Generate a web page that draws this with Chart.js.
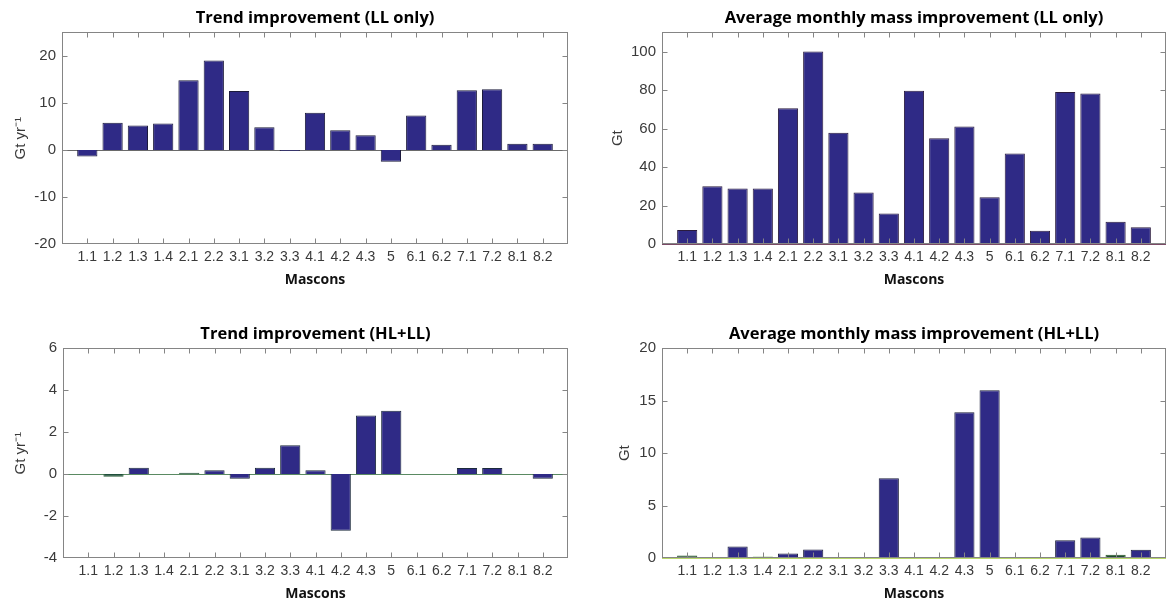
<!DOCTYPE html>
<html><head><meta charset="utf-8">
<script src="https://cdn.jsdelivr.net/npm/chart.js@4.4.1/dist/chart.umd.min.js"></script>
<style>
html,body{margin:0;padding:0;background:#fff;width:1167px;height:602px;overflow:hidden}
.panel{position:absolute}
canvas{display:block}
</style></head><body>
<div class="panel" style="left:0;top:0"><canvas id="c1" width="585" height="288"></canvas></div>
<div class="panel" style="left:590px;top:0"><canvas id="c2" width="577" height="288"></canvas></div>
<div class="panel" style="left:0;top:316px"><canvas id="c3" width="585" height="286"></canvas></div>
<div class="panel" style="left:590px;top:316px"><canvas id="c4" width="577" height="286"></canvas></div>
<script>
// ---- data ----
const mascons = ['1.1','1.2','1.3','1.4','2.1','2.2','3.1','3.2','3.3','4.1','4.2','4.3','5','6.1','6.2','7.1','7.2','8.1','8.2'];
const trendLL   = [-1.4, 5.8, 5.2, 5.6, 14.8, 19.0, 12.5, 4.8, -0.25, 7.9, 4.2, 3.1, -2.5, 7.3, 1.1, 12.7, 12.9, 1.3, 1.3];
const massLL    = [7.3, 30.0, 28.9, 28.9, 70.5, 100.0, 57.8, 26.7, 15.8, 79.6, 55.0, 61.0, 24.3, 47.0, 6.9, 79.0, 78.2, 11.6, 8.7];
const trendHLLL = [0.0, -0.12, 0.3, 0.0, 0.07, 0.18, -0.22, 0.3, 1.38, 0.18, -2.7, 2.8, 3.02, 0.0, 0.0, 0.29, 0.29, 0.0, -0.22];
const massHLLL  = [0.25, 0.1, 1.1, 0.15, 0.42, 0.8, 0.0, 0.0, 7.6, 0.0, 0.0, 13.9, 16.0, 0.0, 0.0, 1.7, 1.95, 0.3, 0.78];
const yTicksTL = [-20, -10, 0, 10, 20];
const yTicksTR = [0, 20, 40, 60, 80, 100];
const yTicksBL = [-4, -2, 0, 2, 4, 6];
const yTicksBR = [0, 5, 10, 15, 20];

const NAVY = '#2f2a86', EDGE = '#1c1b3c';

function framePlugin(baseColor){
  return {
    id:'frame',
    beforeDatasetsDraw(chart){
      const {ctx, chartArea:a, scales:{y}} = chart;
      const y0 = Math.round(y.getPixelForValue(0)) + 0.5;
      ctx.save(); ctx.strokeStyle = baseColor; ctx.lineWidth = 1;
      ctx.beginPath(); ctx.moveTo(a.left, y0); ctx.lineTo(a.right, y0); ctx.stroke();
      ctx.restore();
    },
    afterDraw(chart){
      const {ctx, chartArea:a, scales:{x, y}} = chart;
      ctx.save(); ctx.strokeStyle = '#858585'; ctx.lineWidth = 1;
      const L = Math.round(a.left)+0.5, R = Math.round(a.right)-0.5, T = Math.round(a.top)+0.5, B = Math.round(a.bottom)-0.5;
      ctx.strokeRect(L, T, R-L, B-T);
      ctx.beginPath();
      x.ticks.forEach(t => {
        const px = Math.round(x.getPixelForValue(t.value)) + 0.5;
        ctx.moveTo(px, B); ctx.lineTo(px, B-5);
        ctx.moveTo(px, T); ctx.lineTo(px, T+5);
      });
      y.ticks.forEach(t => {
        if (t.value === y.min || t.value === y.max) return;
        const py = Math.round(y.getPixelForValue(t.value)) + 0.5;
        ctx.moveTo(L, py); ctx.lineTo(L+5, py);
        ctx.moveTo(R, py); ctx.lineTo(R-5, py);
      });
      ctx.stroke();
      ctx.restore();
    }
  };
}

function panel(id, c){
  new Chart(document.getElementById(id), {
    type:'bar',
    data:{datasets:[{
      data: c.values.map((v,i)=>({x:i+1, y:v})),
      backgroundColor: ctx => c.fill(ctx.raw ? ctx.raw.y : 0),
      borderColor: ctx => c.edge(ctx.raw ? ctx.raw.y : 0),
      borderWidth:1, barPercentage:0.8, categoryPercentage:1
    }]},
    options:{
      responsive:false, animation:false, events:[],
      layout:{padding:{left:0, right:c.padRight, top:0, bottom:0}},
      plugins:{
        legend:{display:false}, tooltip:{enabled:false},
        title:{display:true, text:c.title, fullSize:false, color:'#000',
          font:{family:'Open Sans', weight:'bold', size:16.5}, padding:{top:8.5, bottom:4}}
      },
      scales:{
        x:{type:'linear', offset:false, min:0, max:20,
          grid:{display:false, drawTicks:false}, border:{display:false},
          afterBuildTicks: s => { s.ticks = mascons.map((_,i)=>({value:i+1})); },
          afterFit: s => { s.height = 44; },
          ticks:{autoSkip:false, maxRotation:0, minRotation:0, padding:5, color:'#3a3a3a',
            font:{family:'Liberation Sans', size:14}, callback: v => mascons[v-1] ?? ''},
          title:{display:true, text:'Mascons', color:'#111',
            font:{family:'Open Sans', weight:'bold', size:14}, padding:{top:0, bottom:0}}
        },
        y:{min:c.yMin, max:c.yMax,
          grid:{display:false, drawTicks:false}, border:{display:false},
          afterBuildTicks: s => { s.ticks = c.yTicks.map(v=>({value:v})); },
          afterFit: s => { s.width = c.yW; },
          ticks:{padding:6, color:'#3a3a3a', font:{family:'Liberation Sans', size:15}},
          title:{display:true, text:c.yTitle, color:'#3a3a3a',
            font:{family:'Liberation Sans', size:15}, padding:{top:c.yTitlePad, bottom:0}}
        }
      }
    },
    plugins:[framePlugin(c.base)]
  });
}

panel('c1', {values:trendLL, title:'Trend improvement (LL only)', yTitle:'Gt yr\u207B\u00B9',
  yMin:-20, yMax:25, yTicks:yTicksTL, yW:62, yTitlePad:12, padRight:17,
  fill:()=>NAVY, edge:()=>EDGE, base:'#6a6a6a'});
panel('c2', {values:massLL, title:'Average monthly mass improvement (LL only)', yTitle:'Gt',
  yMin:0, yMax:110, yTicks:yTicksTR, yW:72, yTitlePad:19, padRight:1,
  fill:()=>NAVY, edge:()=>'#2a1b3e', base:'#7a4a66'});
panel('c3', {values:trendHLLL, title:'Trend improvement (HL+LL)', yTitle:'Gt yr\u207B\u00B9',
  yMin:-4, yMax:6, yTicks:yTicksBL, yW:63, yTitlePad:12, padRight:17,
  fill:v => Math.abs(v) < 0.15 ? '#1f4f3a' : NAVY,
  edge:v => Math.abs(v) < 0.15 ? '#2c5f3a' : '#1c2a3c', base:'#5a8a62'});
panel('c4', {values:massHLLL, title:'Average monthly mass improvement (HL+LL)', yTitle:'Gt',
  yMin:0, yMax:20, yTicks:yTicksBR, yW:72, yTitlePad:26, padRight:1,
  fill:v => v < 0.2 ? '#62ab4a' : (v < 0.35 ? '#1f4a2f' : NAVY),
  edge:v => v < 0.2 ? '#6fb04f' : (v < 0.35 ? '#2a5a2a' : '#1c1f3c'), base:'#b8d66a'});
</script>
</body></html>
